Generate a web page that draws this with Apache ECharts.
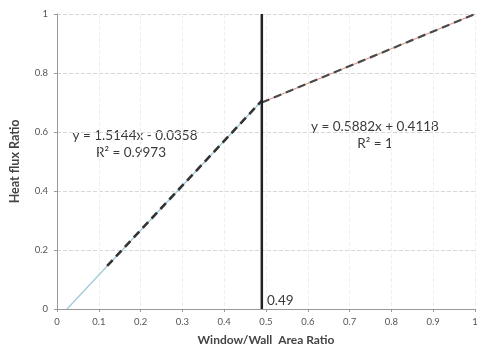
<!DOCTYPE html>
<html><head><meta charset="utf-8">
<script src="https://cdn.jsdelivr.net/npm/echarts@6/dist/echarts.min.js"></script>
<style>html,body{margin:0;padding:0;background:#fff}#c{width:483px;height:351px}</style>
</head><body><div id="c"></div>
<script>
// Data
var xTicks = [0, 0.1, 0.2, 0.3, 0.4, 0.5, 0.6, 0.7, 0.8, 0.9, 1];
var yTicks = [0, 0.2, 0.4, 0.6, 0.8, 1];
var breakX = 0.49;
var leftDataX = [0.024, 0.49];
var leftDataY = [0, 0.706];
var rightDataX = [0.49, 1];
var rightDataY = [0.70, 1];
var leftTrend = {slope: 1.5144, intercept: -0.0358, x0: 0.12, x1: 0.49, label: 'y = 1.5144x - 0.0358', r2: 'R² = 0.9973'};
var rightTrend = {slope: 0.5882, intercept: 0.4118, x0: 0.49, x1: 1, label: 'y = 0.5882x + 0.4118', r2: 'R² = 1'};
var breakLabel = '0.49';

function pairs(xs, ys){ return xs.map(function(x,i){return [x, ys[i]];}); }
function trend(t){ return [[t.x0, t.slope*t.x0+t.intercept],[t.x1, t.slope*t.x1+t.intercept]]; }

var chart = echarts.init(document.getElementById('c'));
var font = 'Lato, "Open Sans", sans-serif';
function txt(s, x, y, align){
  return {type: 'text', x: x, y: y, style: {text: s, fontFamily: font, fontSize: 13.5, fill: '#3a3a3a',
    textAlign: align || 'center', textVerticalAlign: 'middle'}};
}
chart.setOption({
  animation: false,
  backgroundColor: '#fff',
  grid: {left: 54, right: 8, top: 14, bottom: 42},
  xAxis: {
    type: 'value', min: 0, max: 1, interval: 0.1,
    axisLine: {lineStyle: {color: '#999', width: 1}},
    axisTick: {show: true, length: 3, lineStyle: {color: '#999'}},
    axisLabel: {color: '#555', fontSize: 9.5, fontFamily: font, margin: 8,
      formatter: function(v){ return String(+v.toFixed(1)); }},
    splitLine: {show: true, lineStyle: {color: '#f0f0f0', type: 'dashed', width: 1}},
    name: 'Window/Wall  Area Ratio', nameLocation: 'middle', nameGap: 25,
    nameTextStyle: {fontFamily: font, fontWeight: 'bold', fontSize: 12, color: '#444'}
  },
  yAxis: {
    type: 'value', min: 0, max: 1, interval: 0.2,
    axisLine: {show: true, lineStyle: {color: '#999', width: 1}},
    axisTick: {show: true, length: 3, lineStyle: {color: '#999'}},
    axisLabel: {color: '#555', fontSize: 9.5, fontFamily: font, margin: 9,
      formatter: function(v){ return String(+v.toFixed(1)); }},
    splitLine: {show: true, lineStyle: {color: '#d8d8d8', type: 'dashed', width: 1}},
    name: 'Heat flux Ratio', nameLocation: 'middle', nameGap: 36,
    nameTextStyle: {fontFamily: font, fontWeight: 'bold', fontSize: 12.5, color: '#444'}
  },
  series: [
    {type: 'line', data: pairs(leftDataX, leftDataY), symbol: 'none',
      lineStyle: {color: '#9cc9d9', width: 1.2}, z: 2},
    {type: 'line', data: pairs(rightDataX, rightDataY), symbol: 'none',
      lineStyle: {color: '#d9958c', width: 1.2}, z: 2},
    {type: 'line', data: trend(leftTrend), symbol: 'none',
      lineStyle: {color: '#333', width: 2.6, type: [8, 5]}, z: 3},
    {type: 'line', data: trend(rightTrend), symbol: 'none',
      lineStyle: {color: '#4a4a4a', width: 2.2, type: [8, 5]}, z: 3},
    {type: 'line', data: [[breakX, 0], [breakX, 1]], symbol: 'none',
      lineStyle: {color: '#222', width: 2.5}, z: 4}
  ],
  graphic: [
    txt(leftTrend.label, 135, 136),
    txt(leftTrend.r2, 131, 153),
    txt(rightTrend.label, 375, 127),
    txt(rightTrend.r2, 375, 144),
    txt(breakLabel, 267, 301, 'left')
  ]
});
</script></body></html>
